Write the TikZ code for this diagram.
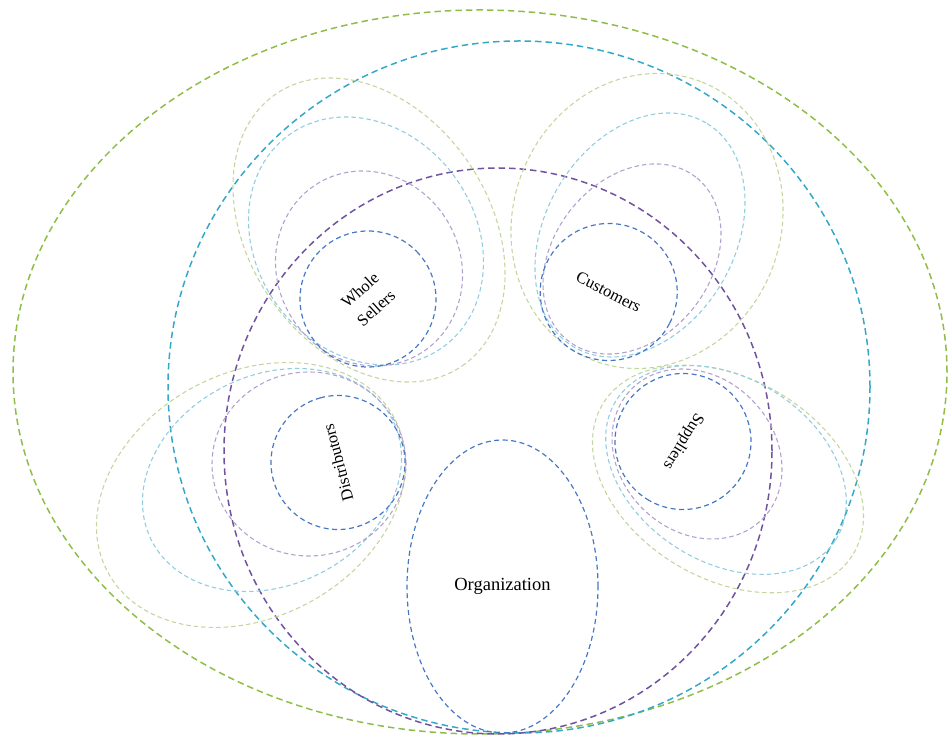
\documentclass[tikz,border=0pt]{standalone}
\usepackage{fontspec}
\setmainfont{Liberation Serif}
\usetikzlibrary{shapes.geometric}

\definecolor{ringGreen}{RGB}{143,190,72}
\definecolor{ringCyan}{RGB}{52,168,200}
\definecolor{ringPurple}{RGB}{112,82,158}
\definecolor{paleGreen}{RGB}{196,214,160}
\definecolor{paleCyan}{RGB}{146,205,224}
\definecolor{palePurple}{RGB}{178,162,208}
\definecolor{coreBlue}{RGB}{72,120,196}

\tikzset{
  oval/.style 2 args={ellipse, inner sep=0pt, outer sep=0pt,
    minimum width=#1pt, minimum height=#2pt},
  bigring/.style={draw=#1, line width=1.5pt, dash pattern=on 6.5pt off 4pt},
  palering/.style={draw=#1, line width=1.1pt, dash pattern=on 4.5pt off 3pt},
  corering/.style={draw=coreBlue, line width=1.2pt, dash pattern=on 5pt off 3.5pt},
  lbl/.style={font=\fontsize{16.5}{24}\selectfont, align=center, text=black},
}

\begin{document}
\begin{tikzpicture}[x=1pt,y=1pt]
\useasboundingbox (0,0) rectangle (948,736);

% ---- outer rings, all touching at the bottom ----
\node[oval={934}{724}, bigring=ringGreen] (env) at (480,364) {};
\node[oval={702}{692}, bigring=ringCyan] (market) at (519,349) {};
\node[oval={548}{566}, bigring=ringPurple] (network) at (498,285) {};

% ---- Whole Sellers cluster ----
\node[oval={329.6}{240.4}, palering=paleGreen, rotate=-55.6] (wsg) at (369,506) {};
\node[oval={262.2}{219}, palering=paleCyan, rotate=-53.8] (wsc) at (366,495) {};
\node[oval={198.6}{183.2}, palering=palePurple, rotate=-60.5] (wsp) at (369,467.5) {};

% ---- Customers cluster ----
\node[oval={298.8}{267.8}, palering=paleGreen, rotate=68.9] (cug) at (647,515) {};
\node[oval={260.2}{189.6}, palering=paleCyan, rotate=59.5] (cuc) at (640,501) {};
\node[oval={207.6}{157.2}, palering=palePurple, rotate=52] (cup) at (632,477) {};

% ---- Distributors cluster ----
\node[oval={325.4}{244.4}, palering=paleGreen, rotate=28.4] (dig) at (251,241) {};
\node[oval={269.6}{210}, palering=paleCyan, rotate=26.3] (dic) at (272,256) {};
\node[oval={194}{184}, palering=palePurple] (dip) at (309,272) {};

% ---- Suppliers cluster ----
\node[oval={292}{200}, palering=paleGreen, rotate=-30.7] (sug) at (728,257) {};
\node[oval={260}{184}, palering=paleCyan, rotate=-32.5] (suc) at (726,266) {};
\node[oval={184.4}{154.2}, palering=palePurple, rotate=-45] (sup) at (697,282) {};

% ---- inner cores with their labels ----
\node[circle, minimum size=136pt, inner sep=0pt, corering, lbl, rotate=42]
  (ws) at (368,437) {Whole\\Sellers};
\node[circle, minimum size=137pt, inner sep=0pt, corering, lbl, rotate=-27]
  (cu) at (608.7,444) {Customers};
\node[circle, minimum size=134pt, inner sep=0pt, corering, lbl, rotate=105]
  (di) at (338,273.5) {Distributors};
\node[circle, minimum size=136pt, inner sep=0pt, corering, lbl, rotate=238]
  (su) at (683,294.5) {Suppliers};
\node[oval={191}{293}, corering, lbl, font=\fontsize{18.5}{20}\selectfont]
  (org) at (502.5,149.5) {Organization};
\end{tikzpicture}
\end{document}
